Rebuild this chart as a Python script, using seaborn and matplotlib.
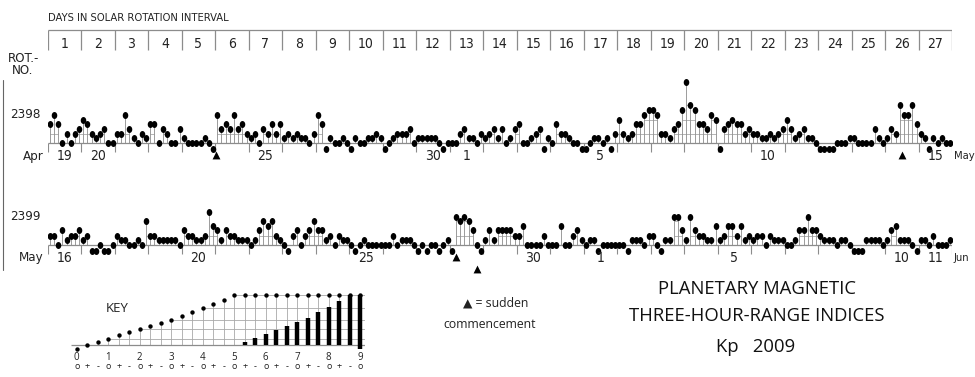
import numpy as np
import pandas as pd
import matplotlib
matplotlib.use("Agg")
import matplotlib.pyplot as plt
import seaborn as sns
from matplotlib.path import Path
from matplotlib.lines import Line2D
from matplotlib import font_manager as fm

# ---------------- data ----------------
ROT_NUMBERS = ["2398", "2399"]
DAY_NUMBERS = [str(d) for d in range(1, 28)]

# Kp, eight 3-hour values per day, 27 days per rotation
ROW1_KP = [
    "2- 2+ 2- 0+ 1o 0+ 1o 1+", "2o 2- 1o 1- 1o 1+ 0+ 0+", "1o 1o 2+ 1+ 1- 0+ 1o 1-",
    "2- 2- 0+ 1+ 1o 0+ 0+ 1+", "1- 0+ 0+ 0+ 0+ 1- 0+ 0o", "2+ 1+ 2- 1+ 2+ 1+ 2- 1o",
    "1- 1o 0+ 1+ 1o 2- 1o 2-", "1- 1o 1- 1o 1- 1- 0+ 1o", "2+ 2- 0o 1- 0+ 0+ 1- 0+",
    "0o 1- 0+ 0+ 1- 1- 1o 1-", "0o 0+ 1- 1o 1o 1o 1+ 0+", "1- 1- 1- 1- 1- 0+ 0o 0+",
    "0+ 0+ 1o 1+ 1- 1- 0+ 1o", "1- 1o 1+ 1- 1+ 0+ 1- 1+", "2- 0+ 0+ 1- 1o 1+ 0o 1-",
    "0+ 2- 1o 1o 1- 0+ 0+ 0o", "0o 0+ 1- 1- 0+ 1- 0o 1o", "2o 1o 1- 1o 2- 2- 2+ 3-",
    "3- 2+ 1o 1o 1- 1+ 2- 3-", "4+ 3o 3- 2- 2- 1+ 2+ 2o", "0o 1+ 2- 2o 2- 2- 1o 1+",
    "1o 1o 1- 1- 1o 1- 1o 1+", "2o 1+ 1- 1o 1+ 1- 1- 0+", "0o 0o 0o 0o 0+ 0+ 0+ 1-",
    "1- 0+ 0+ 0+ 0+ 1+ 1- 0+", "1- 1+ 1o 3o 2+ 2+ 3o 2-", "1o 1- 0o 1- 0+ 1- 0+ 0+",
]
ROW2_KP = [
    "1o 1o 0+ 1+ 1- 1o 1o 1+", "1- 1o 0o 0o 0+ 0o 0o 0+", "1o 1- 1- 0+ 0+ 1- 0+ 2o",
    "1o 1o 1- 1- 1- 1- 1- 0+", "1+ 1o 1o 1- 1- 1o 3- 2-", "1+ 1- 1+ 1o 1o 1- 1- 1-",
    "0+ 1- 1+ 2o 2- 2o 1o 1-", "0+ 0o 1o 1+ 0+ 1o 1+ 2o", "1+ 1+ 1- 1o 0+ 1o 1- 1-",
    "0+ 0o 0+ 1- 0+ 0+ 0+ 0+", "0+ 0+ 1o 0+ 1- 1- 1- 0+", "0o 0+ 0o 0+ 0+ 0o 0+ 1-",
    "0o 2+ 2o 2+ 2o 1+ 0+ 0o", "1- 1+ 1- 1+ 1+ 1+ 1+ 1o", "1o 2- 0+ 0+ 0+ 0+ 1o 0+",
    "0+ 0+ 2- 0+ 0+ 1o 1+ 1-", "0+ 1- 1- 0o 0+ 0+ 0+ 0+", "0+ 0+ 0o 1- 1- 1- 0+ 1o",
    "1o 0+ 0o 1- 1- 2+ 2+ 1+", "1- 2+ 1+ 1o 1o 1- 1- 2-", "1- 1o 2- 2- 1o 2- 1- 1o",
    "1- 1o 1o 0+ 1o 1- 1- 1-", "0+ 0+ 1- 1+ 1+ 2+ 1+ 1+", "1o 1- 1- 1- 0+ 1- 1- 0+",
    "0o 0o 0o 1- 1- 1- 1- 0+", "1- 1+ 2- 1- 1- 1- 0+ 0o", "1- 1- 0+ 1o 0+ 0+ 0+ 1-",
]
ROW1_DATE_LABELS = {1: "19", 2: "20", 7: "25", 12: "30", 13: "1", 17: "5", 22: "10", 27: "15"}
ROW2_DATE_LABELS = {1: "16", 5: "20", 10: "25", 15: "30", 17: "1", 21: "5", 26: "10", 27: "11"}
ROW1_MONTHS = ["Apr", "May"]
ROW2_MONTHS = ["May", "Jun"]
ROW1_SC = [5.02, 25.5]          # sudden commencements (day of rotation)
ROW2_SC = [12.2]
ROW2_SC_LOW = [12.8]
KEY_CODES = ["0o", "0+"] + [f"{d}{s}" for d in range(1, 9) for s in "-o+"] + ["9-", "9o"]

# ---------------- scale / style ----------------
DOT_H = [-3.7, 0, 3.3, 6.3, 9.7, 12.7, 15.7, 18.7, 22.0, 25.3, 28.7, 32.7, 37.0, 41.0, 45.3, 49.7]
BAR_H = [3.3, 7.0, 10.7, 14.7, 19.0, 23.0, 27.3, 32.7, 37.7, 44.0, 50.0, 50.0]
MAIN_SCALE = 1.5
GRID_LEVELS = [3, 6, 9, 12]
KEY_GRID_LEVELS = [3, 6, 9, 12, 15]
GRAY = "#8c8c8c"
LGRAY = "#a8a8a8"
W, H = 975, 377


def thirds(code):
    return int(code[0]) * 3 + {"-": -1, "o": 0, "+": 1}[code[1]]


def pick_font(cands):
    for fam, stretch, must in cands:
        try:
            p = fm.findfont(fm.FontProperties(family=fam, stretch=stretch), fallback_to_default=False)
            if must and must not in p:
                continue
            return {"family": fam, "stretch": stretch}
        except Exception:
            continue
    return {"family": "DejaVu Sans"}


sns.set_style("white")
NARROW = pick_font([("Liberation Sans Narrow", "normal", "Narrow"),
                    ("DejaVu Sans", "condensed", "ondensed"),
                    ("Roboto Condensed", "normal", "ondensed"),
                    ("Liberation Sans", "normal", None)])
REG = {"family": ["Open Sans", "DejaVu Sans"]}

fig = plt.figure(figsize=(W / 100, H / 100), dpi=100)
fig.patch.set_facecolor("white")


def add_axes(left_px, right_px, top_px, bottom_px):
    ax = fig.add_axes([left_px / W, 1 - bottom_px / H, (right_px - left_px) / W, (bottom_px - top_px) / H])
    ax.axis("off")
    ax.patch.set_visible(False)
    return ax


def ftext(xpx, ypx, s, **kw):
    fig.text(xpx / W, 1 - ypx / H, s, **kw)


t_ = np.linspace(0, 2 * np.pi, 40)
ELLIPSE = Path(np.column_stack([0.8 * np.cos(t_), np.sin(t_)]), closed=True)

X0, X1 = 47.7, 952.2


def draw_row(ax, kp_days, date_labels, months, rot, sc, sc_low=()):
    codes = [c for d in kp_days for c in d.split()]
    t = np.array([thirds(c) for c in codes])
    x = (np.arange(len(t)) + 0.5) / 8
    h = MAIN_SCALE * np.interp(t, np.arange(16), DOT_H)
    # grid segments between neighbouring stems
    for lvl in GRID_LEVELS:
        hl = MAIN_SCALE * DOT_H[lvl]
        ok = h >= hl - 1e-6
        idx = np.where(ok[:-1] & ok[1:])[0]
        if len(idx):
            ax.hlines(np.full(len(idx), hl), x[idx], x[idx + 1], color=LGRAY, lw=0.6, zorder=1)
    up = h > 0
    ax.vlines(x[up], 0, h[up], color=GRAY, lw=0.6, zorder=1)
    ax.hlines(0, 0, 27, color=GRAY, lw=0.9, zorder=1)
    ax.vlines(np.arange(28), -9, 0, color=GRAY, lw=0.8, zorder=1)
    df = pd.DataFrame({"x": x, "h": h})
    sns.scatterplot(data=df, x="x", y="h", marker=ELLIPSE, s=25, color="black",
                    edgecolor="black", linewidth=0, ax=ax, legend=False, zorder=3)
    for d, lab in date_labels.items():
        ax.text(d - 0.5, -13, lab, ha="center", va="center", fontsize=10, color="#222", **NARROW)
    ax.text(-0.12, -13, months[0], ha="right", va="center", fontsize=9.5, color="#222", **NARROW)
    ax.text(27.04, -13, months[1], ha="left", va="center", fontsize=8, color="#222", **NARROW)
    ax.text(-0.22, 28.5, rot, ha="right", va="center", fontsize=9.5, color="#222", **NARROW)
    tri = pd.DataFrame({"x": list(sc) + list(sc_low),
                        "y": [-11.5] * len(sc) + [-24.0] * len(sc_low)})
    sns.scatterplot(data=tri, x="x", y="y", marker="^", s=32, color="black",
                    edgecolor="black", linewidth=0, ax=ax, legend=False, zorder=3)
    ax.set_xlim(0, 27)


# ---- row 1 (with header) ----
B1 = 143.3
ax1 = add_axes(X0, X1, 8, 168)
draw_row(ax1, ROW1_KP, ROW1_DATE_LABELS, ROW1_MONTHS, ROT_NUMBERS[0], ROW1_SC)
ax1.set_ylim(-(168 - B1), B1 - 8)
ax1.hlines(B1 - 30, 0, 27, color=GRAY, lw=0.9)
ax1.vlines(np.arange(28), B1 - 50, B1 - 30, color=GRAY, lw=0.9)
for i, lab in enumerate(DAY_NUMBERS):
    ax1.text(i + 0.5, B1 - 44, lab, ha="center", va="center", fontsize=10, color="#222", **NARROW)
ax1.text(0, B1 - 18, "DAYS IN SOLAR ROTATION INTERVAL", ha="left", va="center",
         fontsize=8, color="#222", **NARROW)

# ---- row 2 ----
B2 = 245.0
ax2 = add_axes(X0, X1, 175, 275)
draw_row(ax2, ROW2_KP, ROW2_DATE_LABELS, ROW2_MONTHS, ROT_NUMBERS[1], ROW2_SC, ROW2_SC_LOW)
ax2.set_ylim(-(275 - B2), B2 - 175)

# ---- left labels / frame line ----
ftext(24, 59, "ROT.-", ha="center", va="center", fontsize=9.5, color="#222", **NARROW)
ftext(23, 71, "NO.", ha="center", va="center", fontsize=9.5, color="#222", **NARROW)
fig.add_artist(Line2D([3 / W, 3 / W], [1 - 80 / H, 1 - 270 / H], color="#666", lw=0.8))

# ---- key ----
axk = add_axes(71.45, 365.45, 285, 375)
kt = np.array([thirds(c) for c in KEY_CODES])
kx = np.arange(len(kt))
kh_dot = np.where(kt <= 15, np.interp(np.minimum(kt, 15), np.arange(16), DOT_H), DOT_H[15])
for lvl in KEY_GRID_LEVELS:
    first = np.argmax(kh_dot >= DOT_H[lvl] - 1e-6)
    axk.hlines(DOT_H[lvl], first, 27.45, color=LGRAY, lw=0.6, zorder=1)
upk = kh_dot > 0
axk.vlines(kx[upk], 0, kh_dot[upk], color=LGRAY, lw=0.6, zorder=1)
axk.hlines(0, -0.5, 27.45, color=GRAY, lw=0.9, zorder=1)
bar_mask = kt >= 16
bar_top = np.array([BAR_H[v - 16] for v in kt[bar_mask]])
bar_bot = np.where(kt[bar_mask] == 27, DOT_H[0], 0)
axk.vlines(kx[bar_mask], bar_bot, bar_top, color="black", lw=3.2, zorder=3)
sns.scatterplot(x=kx, y=kh_dot, s=10, color="black", edgecolor="black", linewidth=0,
                ax=axk, legend=False, zorder=3)
for j, t in zip(kx, kt):
    if t % 3 == 0:
        axk.text(j, -12, str(t // 3), ha="center", va="center", fontsize=7, color="#222", **REG)
    axk.text(j, -21.5, {0: "o", 1: "+", 2: "-"}[t % 3], ha="center", va="center",
             fontsize=6.5, color="#222", **REG)
axk.set_xlim(-0.5, 27.5)
axk.set_ylim(-30, 60)

ftext(117, 309, "KEY", ha="center", va="center", fontsize=9.5, color="#222", **REG)
ftext(496, 303, "▲ = sudden", ha="center", va="center", fontsize=8.8, color="#222", **REG)
ftext(490, 324, "commencement", ha="center", va="center", fontsize=8.8, color="#222", **REG)

ftext(757, 289, "PLANETARY MAGNETIC", ha="center", va="center", fontsize=13.3, color="#111", **REG)
ftext(757, 316, "THREE-HOUR-RANGE INDICES", ha="center", va="center", fontsize=13.3, color="#111", **REG)
ftext(756, 347, "Kp   2009", ha="center", va="center", fontsize=13.3, color="#111", **REG)

fig.savefig("out.png", dpi=100, facecolor="white")
